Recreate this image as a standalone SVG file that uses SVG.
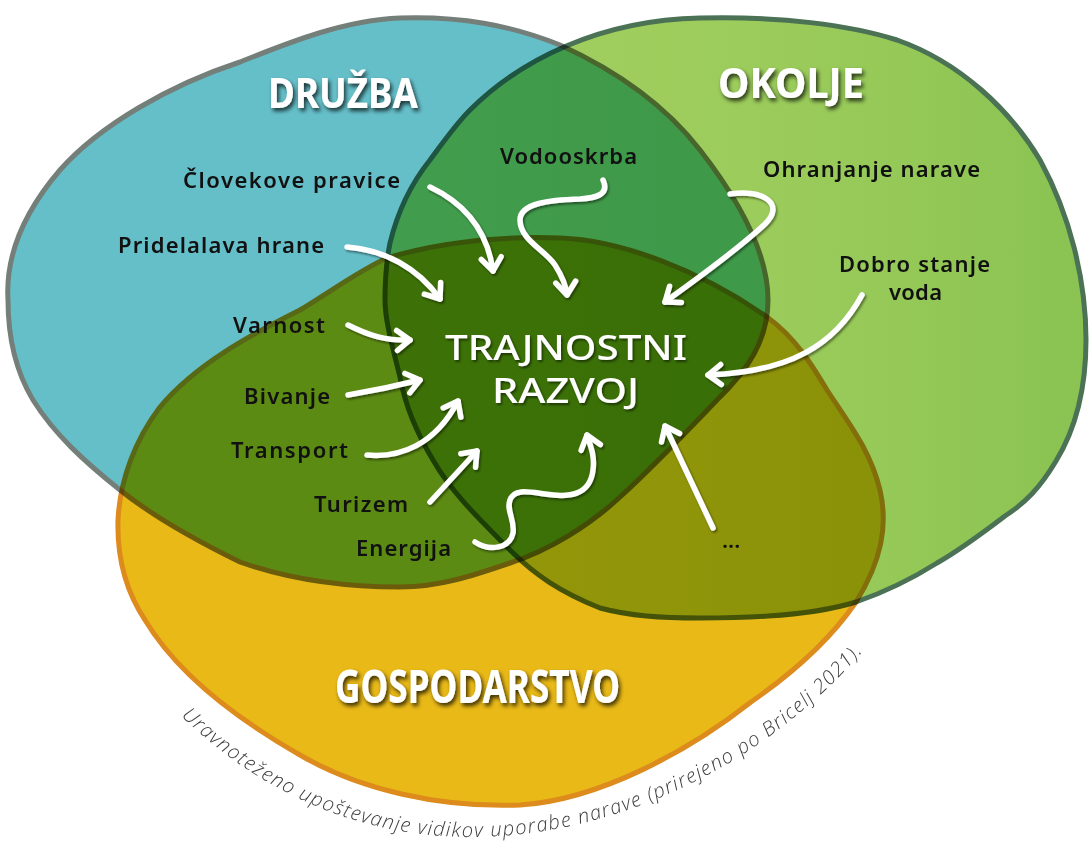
<svg xmlns="http://www.w3.org/2000/svg" width="1091" height="841" viewBox="0 0 1091 841">
<defs>
<linearGradient id="gGreen" gradientUnits="userSpaceOnUse" x1="385" y1="0" x2="1086" y2="0">
<stop offset="0" stop-color="#a6d162"/>
<stop offset="0.6" stop-color="#9acb5a"/>
<stop offset="1" stop-color="#8ac352"/>
</linearGradient>
<filter id="titleShadow" x="-20%" y="-40%" width="140%" height="180%">
<feDropShadow dx="2" dy="3" stdDeviation="2" flood-color="#000" flood-opacity="0.75"/>
</filter>
<filter id="softShadow" x="-20%" y="-40%" width="140%" height="180%">
<feDropShadow dx="1.5" dy="2" stdDeviation="1.2" flood-color="#000" flood-opacity="0.5"/>
</filter>
<filter id="arrowShadow" x="-20%" y="-20%" width="140%" height="140%">
<feDropShadow dx="1.5" dy="2" stdDeviation="1.3" flood-color="#000" flood-opacity="0.45"/>
</filter>
<marker id="ah" viewBox="-16 -14 20 28" refX="0" refY="0" markerWidth="20" markerHeight="28" markerUnits="userSpaceOnUse" orient="auto" overflow="visible">
<path d="M-13,-10 L0,0 L-13,10" fill="none" stroke="#ffffff" stroke-width="5.5" stroke-linecap="round" stroke-linejoin="round"/>
</marker>
<path id="capPath" d="M181,716 C268,800 370,837 470,837 C610,837 760,770 864,650 L910,590"/>
</defs>
<style>
.set { mix-blend-mode: multiply; stroke-width: 5; stroke-linejoin: round; }
.blue { fill: #65bfc9; stroke: #747f7a; }
.green { fill: url(#gGreen); stroke: #4b7254; }
.yellow { fill: #e9b917; stroke: #dc8b1c; }
.title { font-family: "Noto Sans", "DejaVu Sans", sans-serif; font-weight: 700; fill: #ffffff; filter: url(#titleShadow); }
.core { font-family: "Noto Sans", "DejaVu Sans", sans-serif; font-weight: 500; fill: #ffffff; filter: url(#softShadow); }
.lbl { font-family: "Noto Sans", "Liberation Sans", sans-serif; font-weight: 600; font-size: 22px; fill: #111111; }
.arr { fill: none; stroke: #ffffff; stroke-width: 5.5; stroke-linecap: round; stroke-linejoin: round; marker-end: url(#ah); }
.cap { font-family: "Open Sans", "Liberation Sans", sans-serif; font-style: italic; font-weight: 300; font-size: 20px; fill: #3c3c3c; letter-spacing: 1.3px; }
</style>
<rect x="0" y="0" width="1091" height="841" fill="#ffffff"/>

<g id="set-druzba">
<path class="set blue" d="M8,300 C5,250 30,205 60,170 C100,125 170,85 240,62 C290,42 345,20 400,18 C460,16 510,25 560,45 C615,70 665,105 700,150 C735,195 768,250 768,300 C768,340 748,370 717,400 C690,428 655,465 620,497 C590,525 550,550 510,563 C475,575 440,587 400,587 C340,587 285,578 240,562 C195,540 155,518 120,490 C85,462 55,435 33,400 C15,370 8,335 8,300 Z"/>
</g>
<g id="set-okolje">
<path class="set green" d="M700,18 C780,16 850,25 897,40 C960,62 1010,110 1040,160 C1070,215 1086,280 1086,340 C1086,390 1075,430 1056,461 C1040,488 1025,503 1005,516 C980,535 960,550 937,563 C910,580 885,592 856,602 C830,610 800,614 768,616 C740,618 720,618 700,618 C660,618 630,616 600,608 C560,592 535,575 510,550 C475,515 450,490 433,460 C415,430 405,405 400,377 C392,345 385,320 385,300 C385,275 387,258 390,243 C398,210 410,185 430,160 C445,140 455,125 470,110 C520,60 600,20 700,18 Z"/>
</g>
<g id="set-gospodarstvo">
<path class="set yellow" d="M387,258 C440,242 500,236 560,238 C620,240 700,270 767,317 C795,337 812,365 827,390 C850,425 870,450 880,490 C888,525 882,560 856,602 C830,640 790,675 751,702 C690,750 600,800 520,805 C440,808 360,790 300,755 C230,715 175,670 145,620 C125,590 117,555 118,520 C120,480 135,440 160,407 C195,365 250,335 300,310 C330,292 360,270 387,258 Z"/>
</g>

<g id="title-druzba"><text class="title" x="268" y="108" font-size="42" textLength="150" lengthAdjust="spacingAndGlyphs">DRUŽBA</text></g>
<g id="title-okolje"><text class="title" x="718" y="98" font-size="42" textLength="146" lengthAdjust="spacingAndGlyphs">OKOLJE</text></g>
<g id="title-gospodarstvo"><text class="title" x="335" y="703" font-size="46" textLength="285" lengthAdjust="spacingAndGlyphs">GOSPODARSTVO</text></g>
<g id="core">
<text class="core" x="445" y="360" font-size="35" textLength="242" lengthAdjust="spacingAndGlyphs">TRAJNOSTNI</text>
<text class="core" x="492" y="403" font-size="35" textLength="147" lengthAdjust="spacingAndGlyphs">RAZVOJ</text>
</g>

<g id="label-clovekove"><text class="lbl" x="183" y="188" textLength="217" lengthAdjust="spacing">Človekove pravice</text></g>
<g id="label-vodooskrba"><text class="lbl" x="500" y="164" textLength="137" lengthAdjust="spacing">Vodooskrba</text></g>
<g id="label-ohranjanje"><text class="lbl" x="763" y="177" textLength="217" lengthAdjust="spacing">Ohranjanje narave</text></g>
<g id="label-pridelava"><text class="lbl" x="118" y="253" textLength="206" lengthAdjust="spacing">Pridelalava hrane</text></g>
<g id="label-dobro"><text class="lbl" x="839" y="272" font-size="20" textLength="151" lengthAdjust="spacing">Dobro stanje</text><text class="lbl" x="889" y="300" font-size="20" textLength="53" lengthAdjust="spacing">voda</text></g>
<g id="label-varnost"><text class="lbl" x="233" y="333" textLength="92" lengthAdjust="spacing">Varnost</text></g>
<g id="label-bivanje"><text class="lbl" x="244" y="404" textLength="86" lengthAdjust="spacing">Bivanje</text></g>
<g id="label-transport"><text class="lbl" x="231" y="458" textLength="117" lengthAdjust="spacing">Transport</text></g>
<g id="label-turizem"><text class="lbl" x="314" y="512" textLength="94" lengthAdjust="spacing">Turizem</text></g>
<g id="label-energija"><text class="lbl" x="356" y="556" textLength="95" lengthAdjust="spacing">Energija</text></g>
<g id="label-more"><text class="lbl" x="722" y="548">...</text></g>

<g id="connectors" filter="url(#arrowShadow)">
<path class="arr" d="M430,187 C468,205 488,235 493,271"/>
<path class="arr" d="M347,247 C385,250 418,268 440,299"/>
<path class="arr" d="M603,180 C610,195 595,198 580,199 C550,200 520,203 520,220 C520,240 545,250 555,265 C562,276 566,285 567,295"/>
<path class="arr" d="M730,194 C765,189 785,205 765,224 C735,252 695,280 665,302"/>
<path class="arr" d="M862,295 C835,345 790,372 708,375"/>
<path class="arr" d="M348,325 C368,335 385,341 410,340"/>
<path class="arr" d="M348,395 C372,391 396,386 420,380"/>
<path class="arr" d="M367,455 C400,458 435,445 458,401"/>
<path class="arr" d="M430,502 L477,451"/>
<path class="arr" d="M475,542 C490,552 510,548 513,533 C515,520 506,510 510,500 C514,488 530,492 545,494 C570,498 590,495 593,470 C595,455 590,445 587,435"/>
<path class="arr" d="M713,528 L665,426"/>
</g>

<g id="caption"><text class="cap"><textPath href="#capPath" startOffset="0">Uravnoteženo upoštevanje vidikov uporabe narave (prirejeno po Bricelj 2021).</textPath></text></g>
</svg>
